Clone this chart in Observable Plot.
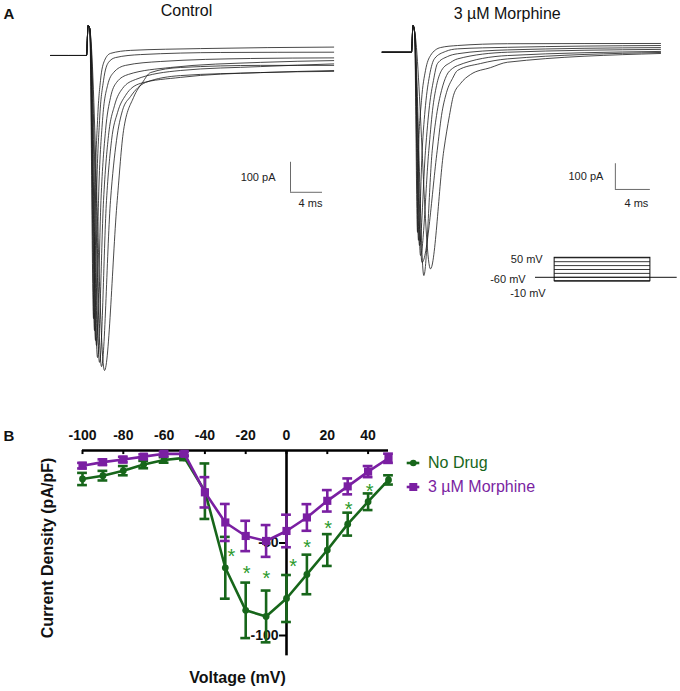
<!DOCTYPE html>
<html><head><meta charset="utf-8">
<script src="https://cdn.jsdelivr.net/npm/d3@7"></script>
<script src="https://cdn.jsdelivr.net/npm/@observablehq/plot@0.6"></script>
<style>
body{margin:0;background:#fff;font-family:"Liberation Sans",Arial,sans-serif;}
#fig{position:relative;width:680px;height:691px;overflow:hidden;}
.pane{position:absolute;}
.leg{position:absolute;left:405px;height:20px;display:flex;align-items:center;font-size:16px;white-space:nowrap;}
.leg svg{display:block;margin-right:0;}
</style></head><body><div id="fig"></div>
<script>
// ---------- Panel A: current traces (time ms, current pA) ----------
const controlLead = [[-4.5,0],[0,0],[0.2,100],[0.4,90]];
const controlTraces = [
 [[0.88,-877],[1.06,-483],[1.38,-217],[1.75,-83],[2.25,-17],[3,7],[5.5,17],[14.25,23],[30.9,28]],
 [[1,-917],[1.25,-483],[1.63,-217],[2.13,-83],[2.75,-23],[3.63,-7],[6.75,3],[16.75,10],[30.9,11]],
 [[1.13,-950],[1.5,-483],[2,-217],[2.63,-100],[3.38,-57],[4.88,-33],[9.25,-20],[20.5,-10],[30.9,-8]],
 [[1.25,-967],[1.81,-483],[2.38,-250],[3,-140],[3.75,-90],[5.25,-63],[10.5,-40],[21.75,-23],[30.9,-17]],
 [[1.38,-1007],[2.13,-483],[2.75,-267],[3.5,-167],[4.5,-110],[6.13,-80],[11.75,-50],[21.75,-37],[30.9,-28]],
 [[1.63,-1023],[2.5,-483],[3.13,-283],[3.88,-190],[4.88,-133],[6.75,-93],[11.75,-73],[21.75,-57],[30.9,-53]],
 [[1.88,-1037],[3,-483],[3.75,-283],[4.5,-183],[5.5,-137],[7.38,-90],[11.75,-67],[21.75,-57],[30.9,-50]],
 [[2.25,-1050],[3.84,-483],[4.63,-250],[5.88,-140],[7,-90],[8,-57],[11.75,-40],[21.75,-33],[30.9,-33]]
];
const morphineLead = [[-3.35,0],[0,0],[0.17,104],[0.34,84]];
const morphineTraces = [
 [[0.69,-701],[0.8,-382],[1.14,-188],[1.6,-71],[2.17,-13],[3.31,18],[5.26,26],[10.97,33],[28.46,34]],
 [[0.8,-732],[1.22,-382],[1.6,-207],[2.06,-91],[2.63,-25],[3.89,3],[5.26,13],[10.97,19],[28.46,26]],
 [[0.91,-752],[1.6,-382],[2.06,-207],[2.51,-110],[2.97,-44],[4.11,-17],[5.26,-6],[10.97,9],[28.46,18]],
 [[1.03,-791],[1.98,-382],[2.4,-227],[2.86,-130],[3.43,-71],[4.46,-40],[5.26,-26],[10.97,0],[28.46,11]],
 [[1.41,-869],[2.37,-382],[2.86,-246],[3.43,-149],[4,-91],[4.69,-63],[5.26,-52],[10.97,-13],[28.46,3]],
 [[1.2,-818],[2.94,-382],[3.43,-246],[4,-157],[4.69,-102],[5.26,-71],[7.89,-44],[10.97,-26],[28.46,-1]],
 [[2.17,-843],[3.69,-382],[4.34,-246],[4.8,-168],[5.6,-122],[6.74,-87],[9.03,-60],[10.97,-39],[28.46,-5]]
];
const controlScaleBar = {t: 25.5, i: -456, ms: 4, pA: 100};
const morphineScaleBar = {t: 23.3, i: -534, ms: 4, pA: 100};
const protocolSteps = [-10, 0, 10, 20, 30, 40, 50];   // mV (schematic)
const protocolTimes = {start: 0, on: 5, off: 30, end: 37};

// ---------- Panel B: I-V relationship ----------
const voltages = [-100,-90,-80,-70,-60,-50,-40,-30,-20,-10,0,10,20,30,40,50];
const noDrugMean = [-15.4,-13.6,-10.9,-7.6,-5.1,-4.0,-22,-63.4,-86.4,-89.7,-80,-67,-53.8,-39.8,-27.7,-15.9];
const noDrugSem  = [3.3,2.6,2.5,2,1.5,1.2,15,16.7,15,14,12.7,10.7,8.6,6.2,4.5,2.5];
const morphineMean = [-8.2,-6.3,-4.9,-3.3,-1.8,-1.8,-22.6,-38.9,-46.2,-48.9,-43.5,-36.2,-27.2,-19.4,-11.4,-4.2];
const morphineSem  = [1.5,1.5,1.5,1.2,1.2,1.2,8.2,10,8.2,8.6,8.8,7.2,5.8,4.3,3,2.5];
const starV = [-27,-19.6,-9.8,3.3,10.1,20.4,30.5,40.8];
const starY = [-54.6,-63.6,-66.3,-59.8,-49.9,-39.6,-29.4,-19.3];
const xTickValues = [-100,-80,-60,-40,-20,0,20,40];
const yTickValues = [-50,-100];

const GREEN = "#17661a", PURPLE = "#7a1fa2", STAR = "#2c9a2c";
const FONT = "'Liberation Sans', Arial, sans-serif";

const fig = document.getElementById("fig");
function place(el, left, top){ const d = document.createElement("div"); d.className="pane"; d.style.left=left+"px"; d.style.top=top+"px"; d.appendChild(el); fig.appendChild(d); }

function traceRows(lead, traces){
  return traces.flatMap((tr, k) => [...lead, ...tr].map(([t, i]) => ({trace: k, t, i})));
}
function scaleBarMarks(sb, lblDx, msDx, msDy){
  return [
    Plot.ruleX([sb], {x: "t", y1: d => d.i, y2: d => d.i + d.pA, stroke: "#6a6a6a", strokeWidth: 1}),
    Plot.ruleY([sb], {y: "i", x1: "t", x2: d => d.t + d.ms, stroke: "#6a6a6a", strokeWidth: 1}),
    Plot.text([sb], {x: "t", y: d => d.i + d.pA / 2, text: d => d.pA + " pA", textAnchor: "end", dx: lblDx, fontSize: 11, fill: "#222"}),
    Plot.text([sb], {x: d => d.t + d.ms / 2, y: "i", text: d => d.ms + " ms", dx: msDx, dy: msDy, fontSize: 11, fill: "#222"})
  ];
}

// Control
place(Plot.plot({
  width: 340, height: 390, margin: 0,
  style: {fontFamily: FONT, background: "transparent", overflow: "visible"},
  x: {domain: [-10.75, 31.75], axis: null},
  y: {domain: [-1116.7, 183.3], axis: null},
  marks: [
    Plot.line(traceRows(controlLead, controlTraces), {x: "t", y: "i", z: "trace", curve: "monotone-x", stroke: "#1a1a1a", strokeWidth: 0.8}),
    ...scaleBarMarks(controlScaleBar, -15, 4, 11),
    Plot.text(["Control"], {frameAnchor: "top", lineAnchor: "middle", dx: 16, dy: 10.5, fontSize: 16, fill: "#111"}),
    Plot.text(["A"], {frameAnchor: "top-left", lineAnchor: "middle", dx: 3, dy: 13.3, fontSize: 15, fontWeight: "bold", textAnchor: "start", fill: "#111"})
  ]
}), 0, 0);

// Morphine
place(Plot.plot({
  width: 340, height: 300, margin: 0,
  style: {fontFamily: FONT, background: "transparent", overflow: "visible"},
  x: {domain: [-8.114, 30.743], axis: null},
  y: {domain: [-966.1, 201.2], axis: null},
  marks: [
    Plot.line(traceRows(morphineLead, morphineTraces), {x: "t", y: "i", z: "trace", curve: "monotone-x", stroke: "#1a1a1a", strokeWidth: 0.8}),
    ...scaleBarMarks(morphineScaleBar, -12, 3.5, 14),
    Plot.text(["3 \u00b5M Morphine"], {frameAnchor: "top", lineAnchor: "middle", dx: -3.3, dy: 13.5, fontSize: 16, fill: "#111"})
  ]
}), 340, 0);

// Voltage protocol schematic
place(Plot.plot({
  width: 200, height: 55, marginLeft: 55, marginRight: 3.3, marginTop: 12.3, marginBottom: 19.3,
  style: {fontFamily: FONT, background: "transparent", overflow: "visible"},
  x: {domain: [protocolTimes.start, protocolTimes.end], axis: null},
  y: {domain: [-10, 50], axis: null},
  marks: [
    Plot.ruleY([protocolSteps[1]], {x1: () => protocolTimes.start, x2: () => protocolTimes.end, stroke: "#111", strokeWidth: 1}),
    Plot.ruleY(protocolSteps, {x1: () => protocolTimes.on, x2: () => protocolTimes.off, stroke: "#222", strokeWidth: 0.9}),
    Plot.rect([protocolTimes], {x1: "on", x2: "off", y1: () => d3.min(protocolSteps), y2: () => d3.max(protocolSteps), fill: "none", stroke: "#111", strokeWidth: 1}),
    Plot.text([d3.max(protocolSteps)], {x: () => protocolTimes.on, y: d => d, text: d => d + " mV", textAnchor: "end", dx: -12, dy: 2, fontSize: 11, fill: "#222"}),
    Plot.text([-60], {x: () => protocolTimes.on, y: () => protocolSteps[1], text: d => d + " mV", textAnchor: "end", dx: -29, dy: 2.5, fontSize: 11, fill: "#222"}),
    Plot.text([d3.min(protocolSteps)], {x: () => protocolTimes.on, y: d => d, text: d => d + " mV", textAnchor: "end", dx: -9, dy: 12.5, fontSize: 11, fill: "#222"})
  ]
}), 480, 245);

// Panel B
const nd = voltages.map((v, k) => ({v, m: noDrugMean[k], s: noDrugSem[k]}));
const mo = voltages.map((v, k) => ({v, m: morphineMean[k], s: morphineSem[k]}));
const stars = starV.map((v, k) => ({v, y: starY[k]}));
function seriesMarks(rows, color, symbol, r){
  return [
    Plot.line(rows, {x: "v", y: "m", stroke: color, strokeWidth: 2.6}),
    Plot.ruleX(rows, {x: "v", y1: d => d.m - d.s, y2: d => d.m + d.s, stroke: color, strokeWidth: 2.6}),
    Plot.ruleY(rows, {y: d => d.m - d.s, x1: d => d.v - 2.4, x2: d => d.v + 2.4, stroke: color, strokeWidth: 2.6}),
    Plot.ruleY(rows, {y: d => d.m + d.s, x1: d => d.v - 2.4, x2: d => d.v + 2.4, stroke: color, strokeWidth: 2.6}),
    Plot.dot(rows, {x: "v", y: "m", symbol, r, fill: color, stroke: "none"})
  ];
}
place(Plot.plot({
  width: 680, height: 291, marginLeft: 82, marginRight: 292, marginTop: 50, marginBottom: 35.65,
  style: {fontFamily: FONT, background: "transparent", overflow: "visible"},
  x: {domain: [-100, 50], axis: null},
  y: {domain: [-111, 0], axis: null},
  marks: [
    Plot.ruleY([0], {x1: () => -100, x2: () => 50, stroke: "#000", strokeWidth: 2.6}),
    Plot.ruleX([0], {y1: () => 0, y2: () => -111, stroke: "#000", strokeWidth: 2.6}),
    Plot.ruleX(xTickValues, {x: d => d, y1: () => 0, y2: () => -2.2, stroke: "#000", strokeWidth: 2}),
    Plot.text(xTickValues, {x: d => d, y: () => 0, dy: -15, fontSize: 14, fontWeight: "bold", fill: "#111"}),
    Plot.ruleY(yTickValues, {y: d => d, x1: () => -3.4, x2: () => 0, stroke: "#000", strokeWidth: 2}),
    Plot.text(yTickValues, {x: () => 0, y: d => d, dx: -8, textAnchor: "end", fontSize: 14, fontWeight: "bold", fill: "#111"}),
    ...seriesMarks(nd, GREEN, "circle", 3.4),
    ...seriesMarks(mo, PURPLE, "square", 4.6),
    Plot.text(stars, {x: "v", y: "y", text: () => "*", dy: 5, fontSize: 20, fill: STAR}),
    Plot.text(["Current Density (pA/pF)"], {frameAnchor: "left", textAnchor: "middle", lineAnchor: "middle", rotate: -90, dx: -35, dy: -5.2, fontSize: 16, fontWeight: "bold", fill: "#111"}),
    Plot.text(["Voltage (mV)"], {frameAnchor: "bottom", lineAnchor: "middle", dx: 2, dy: 22, fontSize: 16, fontWeight: "bold", fill: "#111"}),
    Plot.text(["B"], {frameAnchor: "top-left", lineAnchor: "middle", dx: -79, dy: -14, fontSize: 15, fontWeight: "bold", textAnchor: "start", fill: "#111"})
  ]
}), 0, 400);

// Legend
function legendRow(top, color, label, square){
  const d = document.createElement("div");
  d.className = "leg"; d.style.top = top + "px"; d.style.color = color;
  const marker = square
    ? `<rect x="4.3" y="6" width="8" height="8" fill="${color}"/>`
    : `<circle cx="8.3" cy="10" r="3.3" fill="${color}"/>`;
  d.innerHTML = `<svg width="23" height="20"><line x1="1.7" x2="14.3" y1="10" y2="10" stroke="${color}" stroke-width="2.6"/>${marker}</svg><span>${label}</span>`;
  fig.appendChild(d);
}
legendRow(452.7, GREEN, "No Drug", false);
legendRow(477.3, PURPLE, "3 \u00b5M Morphine", true);
</script></body></html>
